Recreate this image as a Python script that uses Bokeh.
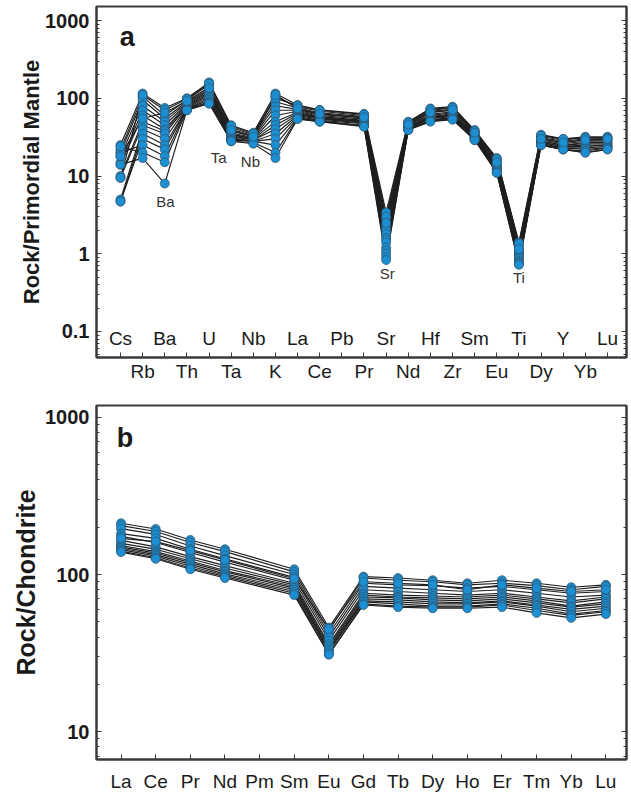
import math
from bokeh.plotting import figure
from bokeh.models import FixedTicker, LogAxis, CustomJSTickFormatter, Label, Range1d
from bokeh.layouts import column
from bokeh.embed import file_html
from bokeh.resources import INLINE
from bokeh.core.properties import value

nan = float("nan")

# ---------------- Panel a: primordial-mantle normalised spidergram ----------------
pm_elements = ["Cs", "Rb", "Ba", "Th", "U", "Ta", "Nb", "K", "La", "Ce", "Pb", "Pr",
               "Sr", "Nd", "Hf", "Zr", "Sm", "Eu", "Ti", "Dy", "Y", "Yb", "Lu"]
pm_s01 = [25, 115, 75, 100, 160, 45, 36, 115, 82, 71, nan, 63, 3.4, 50, 74, 78, 39, 17, 1.4, 34, 30, 32, 32]
pm_s02 = [22, 105, 60, 95, 150, 42, 34, 105, 78, 68, nan, 60, 2.8, 48, 70, 75, 37, 16, 1.3, 32, 29, 31, 31]
pm_s03 = [20, 95, 55, 90, 140, 40, 33, 90, 75, 65, nan, 58, 2.3, 47, 68, 72, 36, 15, 1.2, 31, 28, 30, 30]
pm_s04 = [18, 80, 50, 88, 130, 38, 32, 80, 72, 62, nan, 56, 2.2, 46, 65, 70, 35, 15, 1.1, 30, 27, 29, 29]
pm_s05 = [15, 70, 45, 85, 125, 36, 31, 70, 70, 60, nan, 54, 2.0, 45, 62, 67, 34, 14, 1.05, 29, 26, 28, 28]
pm_s06 = [14, 60, 40, 82, 120, 35, 30, 60, 68, 58, nan, 52, 1.8, 44, 60, 65, 33, 14, 1.0, 28, 25, 27, 27]
pm_s07 = [10, 50, 38, 80, 115, 34, 30, 50, 66, 57, nan, 51, 1.6, 43, 58, 63, 33, 13, 1.0, 28, 25, 26, 26]
pm_s08 = [9.5, 45, 35, 78, 110, 33, 29, 45, 64, 56, nan, 50, 1.5, 42, 57, 61, 32, 13, 0.95, 27, 24, 25, 25]
pm_s09 = [5.0, 40, 30, 76, 105, 32, 29, 40, 62, 55, nan, 49, 1.4, 42, 56, 60, 31, 12.5, 0.9, 27, 24, 24, 25]
pm_s10 = [4.7, 35, 25, 74, 100, 31, 28, 35, 60, 54, nan, 48, 1.2, 41, 55, 58, 31, 12, 0.85, 26, 23, 23, 24]
pm_s11 = [4.7, 30, 22, 73, 95, 30, 28, 30, 58, 52, nan, 47, 1.1, 40, 53, 56, 30, 12, 0.8, 26, 23, 22, 23]
pm_s12 = [20, 25, 18, 72, 90, 29, 28, 25, 56, 51, nan, 45, 1.0, 40, 52, 55, 30, 11.5, 0.78, 25, 22, 21, 23]
pm_s13 = [24, 20, 15, 70, 88, 28, 27, 20, 55, 50, nan, 44, 0.9, 39, 51, 54, 29, 11, 0.75, 25, 22, 20, 22]
pm_s14 = [14, 17, 8, 70, 85, 28, 26, 17, 54, 50, nan, 43, 0.83, 39, 50, 53, 29, 11, 0.72, 25, 22, 20, 22]
pm_s15 = [9.5, 110, 70, 98, 155, 44, 35, 100, 80, 70, nan, 62, 3.0, 49, 72, 76, 38, 16.5, 1.35, 33, 30, 31, 31]
pm_s16 = [18, 55, 65, 92, 135, 39, 32, 110, 74, 63, nan, 57, 2.5, 46, 66, 71, 36, 15, 1.15, 30, 27, 29, 30]
pm_samples = [pm_s01, pm_s02, pm_s03, pm_s04, pm_s05, pm_s06, pm_s07, pm_s08,
              pm_s09, pm_s10, pm_s11, pm_s12, pm_s13, pm_s14, pm_s15, pm_s16]
pm_yticks = [0.1, 1, 10, 100, 1000]
pm_notes = ["Ba", "Ta", "Nb", "Sr", "Ti"]
pm_note_y = [4.7, 17.5, 15.5, 0.56, 0.5]
pm_note_dx = [0.03, -0.57, -0.13, 0.05, 0.0]

# ---------------- Panel b: chondrite normalised REE ----------------
ree_elements = ["La", "Ce", "Pr", "Nd", "Pm", "Sm", "Eu", "Gd", "Tb", "Dy", "Ho", "Er", "Tm", "Yb", "Lu"]
ree_s01 = [212, 195, 166, 145, nan, 108, 46, 97, 95, 92, 88, 92, 88, 83, 86]
ree_s02 = [205, 188, 160, 140, nan, 104, 44, 95, 92, 90, 86, 88, 85, 80, 84]
ree_s03 = [196, 180, 152, 132, nan, 100, 42, 88, 86, 85, 82, 84, 80, 76, 78]
ree_s04 = [182, 170, 145, 126, nan, 96, 40, 84, 82, 80, 78, 80, 76, 72, 74]
ree_s05 = [175, 160, 138, 120, nan, 92, 38, 80, 78, 76, 74, 76, 72, 68, 72]
ree_s06 = [165, 150, 130, 114, nan, 88, 36, 76, 74, 73, 72, 74, 70, 66, 70]
ree_s07 = [158, 145, 126, 110, nan, 86, 35, 74, 72, 71, 70, 72, 68, 63, 67]
ree_s08 = [153, 140, 122, 106, nan, 84, 34, 72, 71, 69, 68, 70, 66, 62, 65]
ree_s09 = [150, 137, 119, 104, nan, 82, 33, 70, 69, 67, 66, 68, 64, 60, 63]
ree_s10 = [147, 134, 116, 101, nan, 80, 33, 68, 67, 65, 65, 67, 63, 58, 61]
ree_s11 = [144, 131, 113, 99, nan, 78, 32, 67, 65, 63, 63, 65, 61, 56, 59]
ree_s12 = [141, 128, 110, 97, nan, 76, 31, 65, 63, 62, 62, 64, 59, 55, 58]
ree_s13 = [139, 126, 108, 95, nan, 74, 31, 64, 62, 61, 61, 62, 57, 53, 56]
ree_s14 = [170, 162, 142, 124, nan, 94, 45, 90, 88, 86, 80, 86, 82, 78, 80]
ree_samples = [ree_s01, ree_s02, ree_s03, ree_s04, ree_s05, ree_s06, ree_s07,
               ree_s08, ree_s09, ree_s10, ree_s11, ree_s12, ree_s13, ree_s14]
ree_yticks = [10, 100, 1000]

FONT = "Liberation Sans"
FRAME = "#3a3a3a"
LINE = "#1e1e1e"
DOT = "#1b8fd2"
DOT_EDGE = "#2f4f66"


def minor_list(lo_exp, hi_exp):
    return [m * 10.0 ** k for k in range(lo_exp, hi_exp) for m in range(2, 10)]


def base_fig(width, height, xr, yr, borders, yticks, minor, ylabel, ylabel_size, standoff):
    left, right, top, bottom = borders
    p = figure(width=width, height=height, x_range=Range1d(*xr), y_range=Range1d(*yr),
               y_axis_type="log", output_backend="svg", toolbar_location=None,
               min_border_left=left, min_border_right=right,
               min_border_top=top, min_border_bottom=bottom)
    p.xgrid.visible = False
    p.ygrid.visible = False
    p.outline_line_color = FRAME
    p.outline_line_width = 2
    p.background_fill_color = "white"
    p.border_fill_color = "white"

    yt = FixedTicker(ticks=yticks, minor_ticks=minor)
    fmt = CustomJSTickFormatter(code="return tick >= 1 ? tick.toFixed(0) : tick.toString();")
    ya = p.yaxis[0]
    ya.ticker = yt
    ya.formatter = fmt
    ya.major_tick_in = 5
    ya.major_tick_out = 0
    ya.minor_tick_in = 3
    ya.minor_tick_out = 0
    ya.axis_line_color = FRAME
    ya.axis_line_width = 2
    ya.major_tick_line_color = FRAME
    ya.minor_tick_line_color = FRAME
    ya.major_label_text_font = FONT
    ya.major_label_text_font_style = "bold"
    ya.major_label_text_font_size = "20px"
    ya.major_label_text_color = "#1a1a1a"
    ya.major_label_standoff = 7
    ya.axis_label = ylabel
    ya.axis_label_text_font = FONT
    ya.axis_label_text_font_style = "bold"
    ya.axis_label_text_font_size = ylabel_size
    ya.axis_label_text_color = "#1a1a1a"
    ya.axis_label_standoff = standoff

    ra = LogAxis(ticker=FixedTicker(ticks=yticks, minor_ticks=minor),
                 formatter=CustomJSTickFormatter(code="return '';"),
                 major_tick_in=5, major_tick_out=0, minor_tick_in=3, minor_tick_out=0,
                 axis_line_color=FRAME, axis_line_width=2,
                 major_tick_line_color=FRAME, minor_tick_line_color=FRAME,
                 major_label_standoff=0, major_label_text_font_size="1px")
    p.add_layout(ra, "right")

    xa = p.xaxis[0]
    xa.major_tick_in = 5
    xa.major_tick_out = 0
    xa.minor_tick_in = 0
    xa.minor_tick_out = 0
    xa.axis_line_color = FRAME
    xa.axis_line_width = 2
    xa.major_tick_line_color = FRAME
    xa.major_label_text_font = FONT
    xa.major_label_text_font_size = "19px"
    xa.major_label_text_color = "#1a1a1a"
    return p


def draw_samples(p, samples, size):
    pts = []
    for s in samples:
        xs = [i for i, v in enumerate(s) if not math.isnan(v)]
        ys = [s[i] for i in xs]
        p.line(xs, ys, line_color=LINE, line_width=1.15)
        pts.append((xs, ys))
    for xs, ys in pts:
        p.scatter(xs, ys, size=size, fill_color=DOT, line_color=DOT_EDGE, line_width=0.7)


# ---- figure a ----
pa = base_fig(631, 395, (-1.084, 22.86), (0.0463, 1514), (96, 5, 6, 38),
              pm_yticks, minor_list(-2, 4), "Rock/Primordial Mantle", "22px", -2)
pa.xaxis[0].ticker = FixedTicker(ticks=list(range(len(pm_elements))))
pa.xaxis[0].major_label_overrides = {i: (el if i % 2 == 1 else "") for i, el in enumerate(pm_elements)}
pa.xaxis[0].major_label_standoff = 3
draw_samples(pa, pm_samples, 9)
even_idx = [i for i in range(len(pm_elements)) if i % 2 == 0]
pa.text(x=even_idx, y=[0.081] * len(even_idx), text=[pm_elements[i] for i in even_idx],
        text_align="center", text_baseline="middle", text_font=value(FONT),
        text_font_size="19px", text_color="#1a1a1a")
for name, yv, dx in zip(pm_notes, pm_note_y, pm_note_dx):
    pa.add_layout(Label(x=pm_elements.index(name) + dx, y=yv, text=name, text_align="center",
                        text_baseline="middle", text_font=FONT, text_font_size="15px",
                        text_color="#333333"))
pa.add_layout(Label(x=0.3, y=620, text="a", text_align="center", text_baseline="middle",
                    text_font=FONT, text_font_style="bold", text_font_size="27px",
                    text_color="#1a1a1a"))

# ---- figure b ----
pb = base_fig(631, 399, (-0.71, 14.596), (6.65, 1191), (88, 4, 10, 33),
              ree_yticks, minor_list(0, 4), "Rock/Chondrite", "25px", 2)
pb.xaxis[0].ticker = FixedTicker(ticks=list(range(len(ree_elements))))
pb.xaxis[0].major_label_overrides = {i: el for i, el in enumerate(ree_elements)}
pb.xaxis[0].major_label_standoff = 11
draw_samples(pb, ree_samples, 9)
pb.add_layout(Label(x=0.11, y=745, text="b", text_align="center", text_baseline="middle",
                    text_font=FONT, text_font_style="bold", text_font_size="27px",
                    text_color="#1a1a1a"))

layout = column(pa, pb)
open("out.html", "w").write(file_html(layout, INLINE))
